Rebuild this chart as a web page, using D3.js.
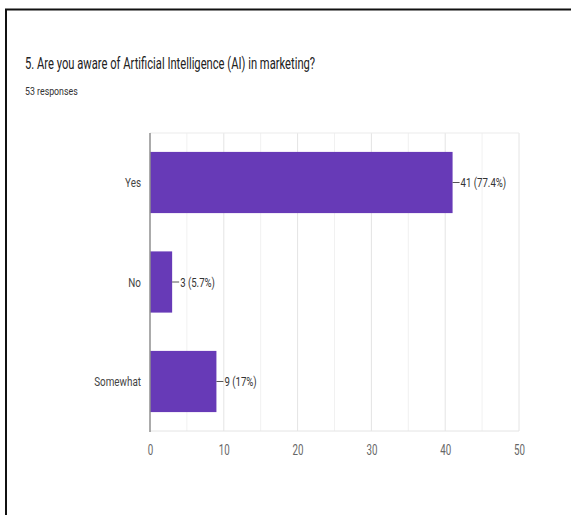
<!DOCTYPE html>
<html>
<head>
<meta charset="utf-8">
<script src="https://cdn.jsdelivr.net/npm/d3@7"></script>
<style>
  html, body { margin: 0; padding: 0; background: #fff; }
  svg { display: block; }
  text { font-family: "Roboto", "Liberation Sans", sans-serif; }
</style>
</head>
<body>
<script>
// Survey question and answer counts
const title = "5. Are you aware of Artificial Intelligence (AI) in marketing?";
const subtitle = "53 responses";
const categories = ["Yes", "No", "Somewhat"];
const counts = [41, 3, 9];
const percents = ["77.4%", "5.7%", "17%"];
const tickValues = [0, 10, 20, 30, 40, 50];
const minorTicks = [5, 15, 25, 35, 45];

const W = 571, H = 515;
const plot = { left: 150, right: 519, top: 133, bottom: 431 };

const svg = d3.select("body").append("svg")
  .attr("width", W).attr("height", H);

svg.append("rect").attr("width", W).attr("height", H).attr("fill", "#fff");

// Condensed text: draw at (x, y) and squeeze horizontally around the anchor
function label(parent, x, y, str, opts) {
  const grp = parent.append("g")
    .attr("transform", `translate(${x},${y}) scale(${opts.sx},1)`);
  return grp.append("text")
    .attr("x", 0).attr("y", 0)
    .attr("dy", opts.dy || null)
    .attr("text-anchor", opts.anchor || "start")
    .attr("font-size", opts.size)
    .attr("fill", opts.fill)
    .text(str);
}

// outer frame (top and left edges)
svg.append("line").attr("x1", 5).attr("x2", W).attr("y1", 9.5).attr("y2", 9.5)
  .attr("stroke", "#111").attr("stroke-width", 2);
svg.append("line").attr("x1", 6).attr("x2", 6).attr("y1", 9).attr("y2", H)
  .attr("stroke", "#111").attr("stroke-width", 2);

label(svg, 25, 69, title, { size: 16, sx: 0.70, fill: "#222" });
label(svg, 25, 95, subtitle, { size: 11, sx: 0.80, fill: "#333" });

const x = d3.scaleLinear().domain([0, 50]).range([plot.left, plot.right]);
const y = d3.scaleBand().domain(categories).range([plot.top, plot.bottom])
  .paddingInner(0.385).paddingOuter(0.19);

// grid
const g = svg.append("g");
g.selectAll(".minor").data(minorTicks).join("line")
  .attr("x1", d => x(d)).attr("x2", d => x(d))
  .attr("y1", plot.top).attr("y2", plot.bottom)
  .attr("stroke", "#f1f1f1").attr("stroke-width", 1);
g.selectAll(".major").data(tickValues.slice(1)).join("line")
  .attr("x1", d => x(d)).attr("x2", d => x(d))
  .attr("y1", plot.top).attr("y2", plot.bottom)
  .attr("stroke", "#e4e4e4").attr("stroke-width", 1);
g.append("line").attr("x1", plot.left).attr("x2", plot.right)
  .attr("y1", plot.top).attr("y2", plot.top).attr("stroke", "#ebebeb");
g.append("line").attr("x1", plot.left).attr("x2", plot.right)
  .attr("y1", plot.bottom).attr("y2", plot.bottom).attr("stroke", "#e4e4e4");

// bars
svg.selectAll(".bar").data(categories).join("rect")
  .attr("x", x(0)).attr("y", d => y(d))
  .attr("width", (d, i) => x(counts[i]) - x(0))
  .attr("height", y.bandwidth())
  .attr("fill", "#673ab7");

// baseline axis
svg.append("line").attr("x1", plot.left).attr("x2", plot.left)
  .attr("y1", plot.top).attr("y2", plot.bottom + 1)
  .attr("stroke", "#8f8f8f").attr("stroke-width", 1.5);

// value annotations
categories.forEach((c, i) => {
  const cx = x(counts[i]);
  const cy = y(c) + y.bandwidth() / 2;
  svg.append("line").attr("x1", cx).attr("x2", cx + 7)
    .attr("y1", cy).attr("y2", cy).attr("stroke", "#555").attr("stroke-width", 1);
  label(svg, cx + 8, cy, `${counts[i]} (${percents[i]})`,
    { size: 13, sx: 0.74, fill: "#333", dy: "0.35em" });
});

// category labels
categories.forEach(c => {
  label(svg, 141, y(c) + y.bandwidth() / 2, c,
    { size: 13, sx: 0.76, fill: "#444", dy: "0.35em", anchor: "end" });
});

// x tick labels, placed by the axis generator then condensed
const xAxis = d3.axisBottom(x).tickValues(tickValues).tickSize(0).tickPadding(0);
const ax = svg.append("g").attr("transform", `translate(0,${plot.bottom + 19})`).call(xAxis);
ax.select(".domain").remove();
ax.selectAll(".tick text")
  .attr("font-size", 15).attr("fill", "#666").attr("dy", "0.35em")
  .attr("font-family", "Roboto, sans-serif")
  .attr("transform", "scale(0.65,1)");
</script>
</body>
</html>
